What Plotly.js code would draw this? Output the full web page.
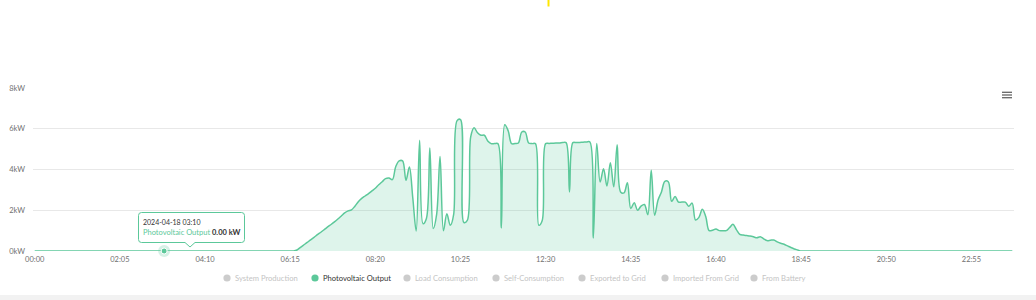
<!DOCTYPE html>
<html>
<head>
<meta charset="utf-8">
<script src="https://cdn.plot.ly/plotly-3.0.1.min.js"></script>
<style>
html,body{margin:0;padding:0;background:#fff;}
#chart{width:1036px;height:300px;}
</style>
</head>
<body>
<div id="chart"></div>
<script>
// ---------- DATA ----------
// 5-minute categories for one day (00:00 .. 23:55)
const timeCategories = [];
for (let h = 0; h < 24; h++) {
  for (let m = 0; m < 60; m += 5) {
    timeCategories.push(String(h).padStart(2, '0') + ':' + String(m).padStart(2, '0'));
  }
}
// Photovoltaic output in kW, one row per hour (12 samples each)
const pvOutput = [
  0,0,0,0,0,0,0,0,0,0,0,0,                                   // 00
  0,0,0,0,0,0,0,0,0,0,0,0,                                   // 01
  0,0,0,0,0,0,0,0,0,0,0,0,                                   // 02
  0,0,0,0,0,0,0,0,0,0,0,0,                                   // 03
  0,0,0,0,0,0,0,0,0,0,0,0,                                   // 04
  0,0,0,0,0,0,0,0,0,0,0,0,                                   // 05
  0,0,0,0,0,0.05,0.18,0.3,0.42,0.55,0.67,0.8,                // 06
  0.92,1.05,1.18,1.3,1.43,1.57,1.72,1.87,1.97,2.02,2.2,2.42, // 07
  2.58,2.7,2.82,2.95,3.08,3.25,3.4,3.55,3.58,3.5,4.15,4.42,  // 08
  4.42,3.47,4.12,2.6,0.98,5.43,1.34,1.6,5.06,1.1,1.8,4.64,   // 09
  1.0,1.83,1.26,1.8,6.4,6.45,1.4,1.5,5.6,6.05,5.8,5.68,      // 10
  5.68,5.4,5.27,5.27,5.27,1.13,6.2,5.9,5.27,5.27,5.3,5.84,   // 11
  5.84,5.3,5.27,5.27,1.26,1.5,5.27,5.28,5.29,5.3,5.3,5.32,   // 12
  5.32,2.9,5.32,5.32,5.33,5.34,5.35,5.35,0.64,5.27,3.39,4.04,// 13
  3.19,4.33,3.15,5.22,2.9,2.85,3.35,2.08,2.37,2.0,2.2,2.28,  // 14
  1.78,3.96,1.75,2.5,2.9,3.42,3.4,2.44,2.67,2.4,2.4,2.4,     // 15
  2.2,2.35,1.52,1.65,2.05,1.69,1.0,1.02,1.08,1.0,1.0,1.0,    // 16
  1.15,1.31,1.05,0.82,0.78,0.76,0.74,0.7,0.65,0.7,0.6,0.51,  // 17
  0.53,0.54,0.45,0.38,0.33,0.25,0.17,0.1,0.05,0,0,0,         // 18
  0,0,0,0,0,0,0,0,0,0,0,0,                                   // 19
  0,0,0,0,0,0,0,0,0,0,0,0,                                   // 20
  0,0,0,0,0,0,0,0,0,0,0,0,                                   // 21
  0,0,0,0,0,0,0,0,0,0,0,0,                                   // 22
  0,0,0,0,0,0,0,0,0,0,0,0                                    // 23
];
const xTickLabels = ['00:00','02:05','04:10','06:15','08:20','10:25','12:30','14:35','16:40','18:45','20:50','22:55'];
const yTickValues = [0, 2, 4, 6, 8];
const yTickLabels = ['0kW', '2kW', '4kW', '6kW', '8kW'];
const legendNames = ['System Production','Photovoltaic Output','Load Consumption','Self-Consumption','Exported to Grid','Imported From Grid','From Battery'];
const activeSeries = 'Photovoltaic Output';
const tooltipTime = '03:10';
const tooltipDate = '2024-04-18 ' + tooltipTime;
const tooltipValue = pvOutput[timeCategories.indexOf(tooltipTime)];

// ---------- LAYOUT / STYLE ----------
const GREEN = '#5cc89a';
const FONT = 'Lato, "Liberation Sans", sans-serif';
const L = 33, R = 1014, T = 88, B = 251, WIDTH = 1036, HEIGHT = 300;
const PW = R - L, PH = B - T;
const px = x => (x - L) / PW;
const py = y => (B - y) / PH;

// legend dot positions (pixels)
const legendDotX = [227, 315, 407, 496, 582, 665, 754];
const legendY = 278;

const shapes = [];
const annotations = [];

legendNames.forEach((name, i) => {
  const on = name === activeSeries;
  const cx = legendDotX[i], r = 3.6;
  shapes.push({type:'circle', xref:'paper', yref:'paper',
    x0:px(cx - r), x1:px(cx + r), y0:py(legendY + r), y1:py(legendY - r),
    fillcolor: on ? GREEN : '#cccccc', line:{width:0}});
  annotations.push({xref:'paper', yref:'paper', x:px(cx + 6), y:py(legendY),
    xanchor:'left', yanchor:'middle', showarrow:false, text:name,
    font:{family:FONT, size:7.6, color: on ? '#333333' : '#c4c4c4'}});
});

// tooltip box with pointer
(function(){
  const x0 = 138.5, x1 = 244.5, y0 = 212.5, y1 = 242.5, rr = 3, tipX = 190, tipY = 247;
  const P = (x, y) => px(x) + ',' + py(y);
  const path = 'M' + P(x0 + rr, y0) + ' L' + P(x1 - rr, y0) + ' Q' + P(x1, y0) + ' ' + P(x1, y0 + rr) +
    ' L' + P(x1, y1 - rr) + ' Q' + P(x1, y1) + ' ' + P(x1 - rr, y1) +
    ' L' + P(tipX + 5, y1) + ' L' + P(tipX, tipY) + ' L' + P(tipX - 5, y1) +
    ' L' + P(x0 + rr, y1) + ' Q' + P(x0, y1) + ' ' + P(x0, y1 - rr) +
    ' L' + P(x0, y0 + rr) + ' Q' + P(x0, y0) + ' ' + P(x0 + rr, y0) + ' Z';
  shapes.push({type:'path', xref:'paper', yref:'paper', path:path,
    fillcolor:'rgba(255,255,255,0.97)', line:{color:GREEN, width:1}});
  annotations.push({xref:'paper', yref:'paper', x:px(141), y:py(222), xanchor:'left', yanchor:'middle',
    showarrow:false, text:tooltipDate, font:{family:FONT, size:7, color:'#333333'}});
  annotations.push({xref:'paper', yref:'paper', x:px(141), y:py(232.5), xanchor:'left', yanchor:'middle',
    showarrow:false,
    text:'<span style="color:' + GREEN + '">' + activeSeries + '</span> <b>' + tooltipValue.toFixed(2) + ' kW</b>',
    font:{family:FONT, size:7.5, color:'#333333'}});
})();

// hamburger (context menu) icon
[92.3, 95, 97.7].forEach(y => {
  shapes.push({type:'line', xref:'paper', yref:'paper', x0:px(1002), x1:px(1012), y0:py(y), y1:py(y),
    line:{color:'#666666', width:1.3}});
});

// yellow mark at top
shapes.push({type:'rect', xref:'paper', yref:'paper', x0:px(547.5), x1:px(549.5), y0:py(6.5), y1:py(0),
  fillcolor:'#ffe600', line:{width:0}});
// bottom grey strip
shapes.push({type:'rect', xref:'paper', yref:'paper', x0:px(0), x1:px(WIDTH), y0:py(300), y1:py(295),
  fillcolor:'#f2f2f2', line:{width:0}});

const traces = [
  {
    type:'scatter', mode:'lines', x:timeCategories, y:pvOutput, name:activeSeries,
    line:{color:GREEN, width:1.5, shape:'spline', smoothing:1.0},
    fill:'tozeroy', fillcolor:'rgba(92,200,154,0.2)', showlegend:false, hoverinfo:'skip'
  },
  {
    type:'scatter', mode:'markers', x:[tooltipTime], y:[tooltipValue], showlegend:false, hoverinfo:'skip',
    marker:{size:12, color:'rgba(92,200,154,0.25)', line:{width:0}}, cliponaxis:false
  },
  {
    type:'scatter', mode:'markers', x:[tooltipTime], y:[tooltipValue], showlegend:false, hoverinfo:'skip',
    marker:{size:6, color:GREEN, line:{width:1, color:'#ffffff'}}, cliponaxis:false
  }
];

const layout = {
  width: WIDTH, height: HEIGHT,
  margin: {l: L, r: WIDTH - R, t: T, b: HEIGHT - B, pad: 0},
  paper_bgcolor:'#ffffff', plot_bgcolor:'#ffffff',
  showlegend:false,
  xaxis: {
    type:'category', categoryorder:'array', categoryarray:timeCategories,
    range:[-0.5, timeCategories.length - 0.5],
    tickmode:'array', tickvals:xTickLabels, ticktext:xTickLabels,
    showgrid:false, zeroline:false, showline:false, ticks:'',
    tickfont:{family:FONT, size:7.5, color:'#707070'}, ticklabelstandoff:2
  },
  yaxis: {
    range:[0, 8], tickmode:'array', tickvals:yTickValues, ticktext:yTickLabels,
    showgrid:true, gridcolor:'#e8e8e8', gridwidth:1, zeroline:false, showline:false, ticks:'',
    tickfont:{family:FONT, size:7.5, color:'#707070'}, ticklabelstandoff:7
  },
  shapes: shapes,
  annotations: annotations
};

Plotly.newPlot('chart', traces, layout, {displayModeBar:false, staticPlot:true});
</script>
</body>
</html>
